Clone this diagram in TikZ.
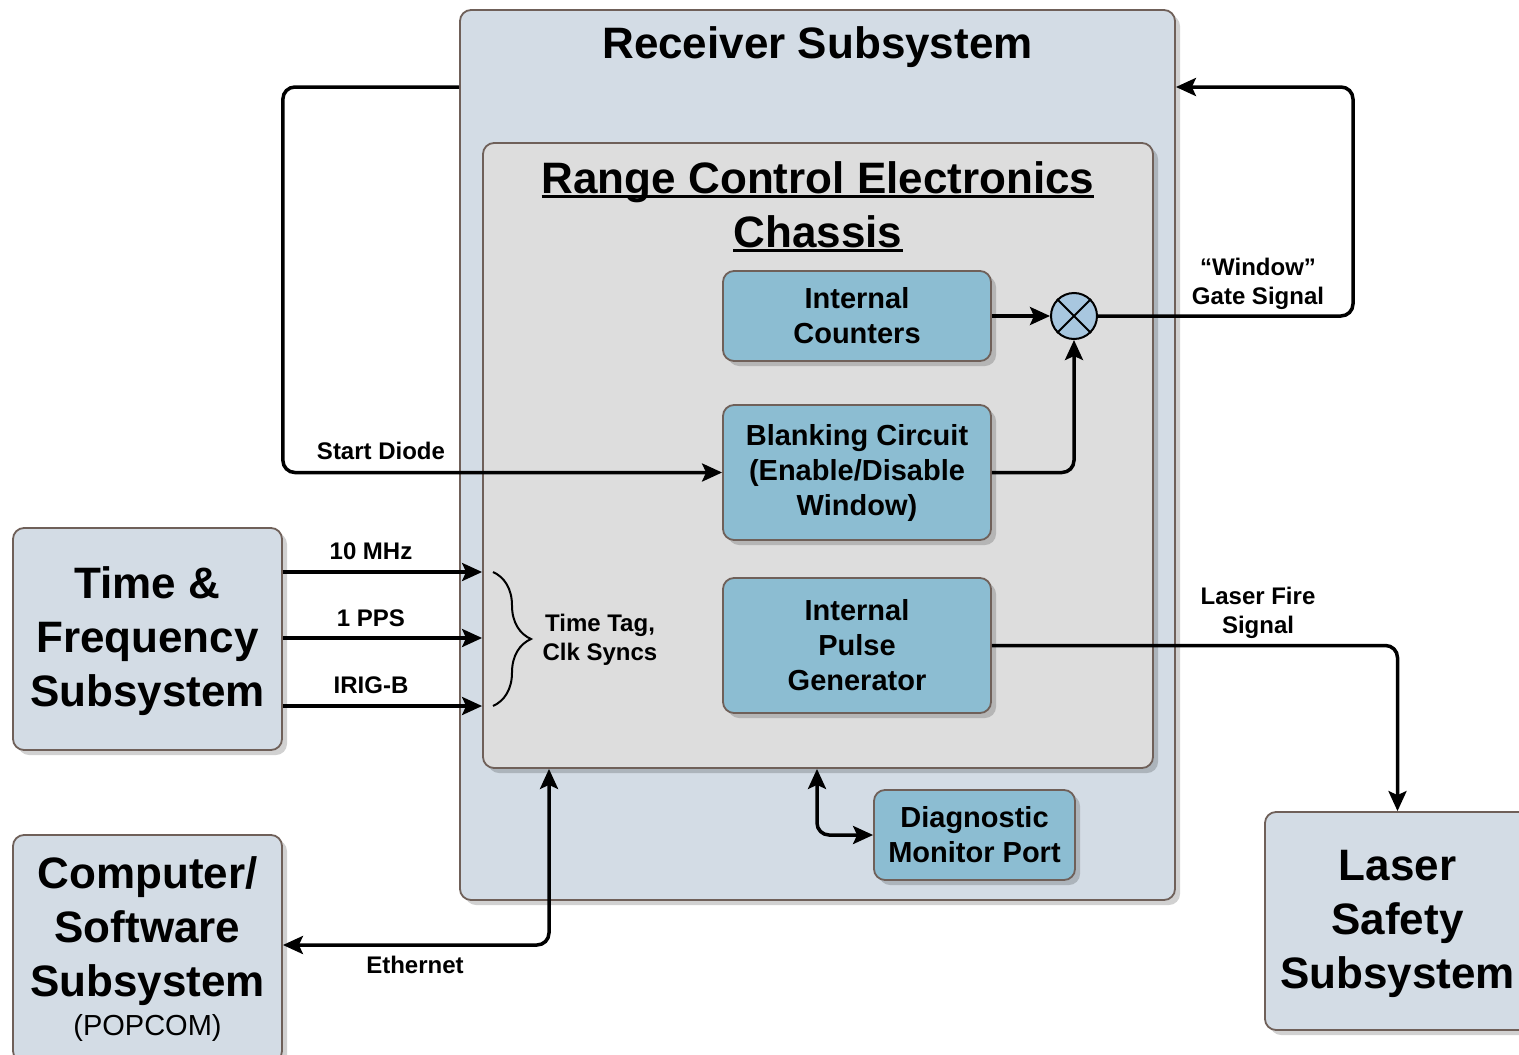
\documentclass[tikz,border=0pt]{standalone}
\usepackage{fontspec}
\setmainfont{Liberation Sans}
\usetikzlibrary{arrows.meta,shadows,decorations.pathreplacing}
\definecolor{edgec}{HTML}{6F6059}
\definecolor{outerfill}{HTML}{D3DCE5}
\definecolor{rcefill}{HTML}{DDDDDD}
\definecolor{bluefill}{HTML}{8CBDD2}
\definecolor{circfill}{HTML}{A8C7DF}
\tikzset{
  box/.style={draw=edgec, line width=1.8pt, rounded corners=11pt, align=center, inner sep=0pt,
    drop shadow={shadow xshift=5pt, shadow yshift=-5pt, fill=black, opacity=0.18}},
  big/.style={font=\fontsize{44}{54}\selectfont\bfseries, align=center},
  mid/.style={font=\fontsize{29}{35}\selectfont\bfseries, align=center},
  lab/.style={font=\fontsize{24}{29.5}\selectfont\bfseries, align=center},
  tipa/.tip={Stealth[length=20pt,width=18pt,inset=4pt]},
  conn/.style={line width=3.5pt, rounded corners=12pt, -tipa},
  conntwo/.style={line width=3.5pt, rounded corners=12pt, tipa-tipa},
  ulnode/.style={big, inner sep=0pt, text depth=0pt, anchor=base}
}
\begin{document}
\begin{tikzpicture}[x=1pt,y=-1pt]
\useasboundingbox (0,0) rectangle (1519,1055);
\clip (0,0) rectangle (1519,1055);
% receiver
\node[box, fill=outerfill, minimum width=715, minimum height=890] (recv) at (817.5,455) {};
\node[big] (recvT) at (817.5,47) {Receiver Subsystem};
\node[box, fill=rcefill, minimum width=670, minimum height=625] (rce) at (818,455.5) {};
\node[ulnode] (rceA) at (818,193) {Range Control Electronics};
\node[ulnode] (rceB) at (818,247) {Chassis};
\draw[line width=3pt] ([yshift=-3.5pt]rceA.south west) -- ([yshift=-3.5pt]rceA.south east);
\draw[line width=3pt] ([yshift=-3.5pt]rceB.south west) -- ([yshift=-3.5pt]rceB.south east);
% inner blocks
\node[box, fill=bluefill, minimum width=268, minimum height=90, mid] (cnt) at (857,316) {Internal\\Counters};
\node[box, fill=bluefill, minimum width=268, minimum height=135, mid] (blank) at (857,472.5) {Blanking Circuit\\(Enable/Disable\\Window)};
\node[box, fill=bluefill, minimum width=268, minimum height=135, mid] (pulse) at (857,645.5) {Internal\\Pulse\\Generator};
\node[box, fill=bluefill, minimum width=201, minimum height=90, mid] (diag) at (974.5,835) {Diagnostic\\Monitor Port};
\node[circle, draw, line width=2pt, fill=circfill, minimum size=46pt, inner sep=0pt] (mix) at (1074,316) {};
\draw[line width=2pt] (mix.north west) -- (mix.south east) (mix.north east) -- (mix.south west);
% outer subsystems
\node[box, fill=outerfill, minimum width=269, minimum height=222] (tf) at (147.5,639) {};
\node[big] (tfT) at (147.5,641) {Time \&\\Frequency\\Subsystem};
\node[box, fill=outerfill, minimum width=269, minimum height=227] (comp) at (147.5,948.5) {};
\node[big] (compT) at (147.5,931) {Computer/\\Software\\Subsystem};
\node[font=\fontsize{29}{35}\selectfont] (compP) at (147.5,1028) {(POPCOM)};
\node[box, fill=outerfill, minimum width=265, minimum height=218] (laser) at (1397.5,921) {};
\node[big] (laserT) at (1397.5,924) {Laser\\Safety\\Subsystem};
% coordinates
\coordinate (sdY) at (0,87);
\coordinate (yA) at (0,572);
\coordinate (yB) at (0,638);
\coordinate (yC) at (0,706);
\coordinate (ethY) at (0,945);
\coordinate (ethX) at (549,0);
\coordinate (dgX) at (817,0);
\coordinate (gateX) at (1353,0);
% connectors
\draw[conn] (recv.west |- sdY) -- (tf.east |- sdY) -- (tf.east |- blank.west) -- (blank.west);
\draw[conn] (cnt.east) -- (mix.west);
\draw[conn] (blank.east) -| (mix.south);
\draw[conn] (mix.east) -- (gateX |- mix.east) -- (gateX |- sdY) -- (recv.east |- sdY);
\draw[conn] (pulse.east) -| (laser.north);
\draw[conn] (tf.east |- yA) -- (rce.west |- yA);
\draw[conn] (tf.east |- yB) -- (rce.west |- yB);
\draw[conn] (tf.east |- yC) -- (rce.west |- yC);
\draw[conntwo] (rce.south -| ethX) -- (ethX |- ethY) -- (comp.east |- ethY);
\draw[conntwo] (rce.south -| dgX) -- (dgX |- diag.west) -- (diag.west);
\draw[line width=2pt, decorate, decoration={brace, amplitude=38pt, aspect=0.5}] (493,572) -- (493,706);
% labels
\node[lab] (lSD) at (381,451) {Start Diode};
\node[lab] (lA) at (371,551) {10 MHz};
\node[lab] (lB) at (371,618) {1 PPS};
\node[lab] (lC) at (371,685) {IRIG-B};
\node[lab] (lTT) at (600,640) {Time Tag,\\Clk Syncs};
\node[lab] (lEth) at (415,965) {Ethernet};
\node[lab] (lWin) at (1258,284) {“Window”\\Gate Signal};
\node[lab] (lLF) at (1258,613) {Laser Fire\\Signal};
\end{tikzpicture}
\end{document}
